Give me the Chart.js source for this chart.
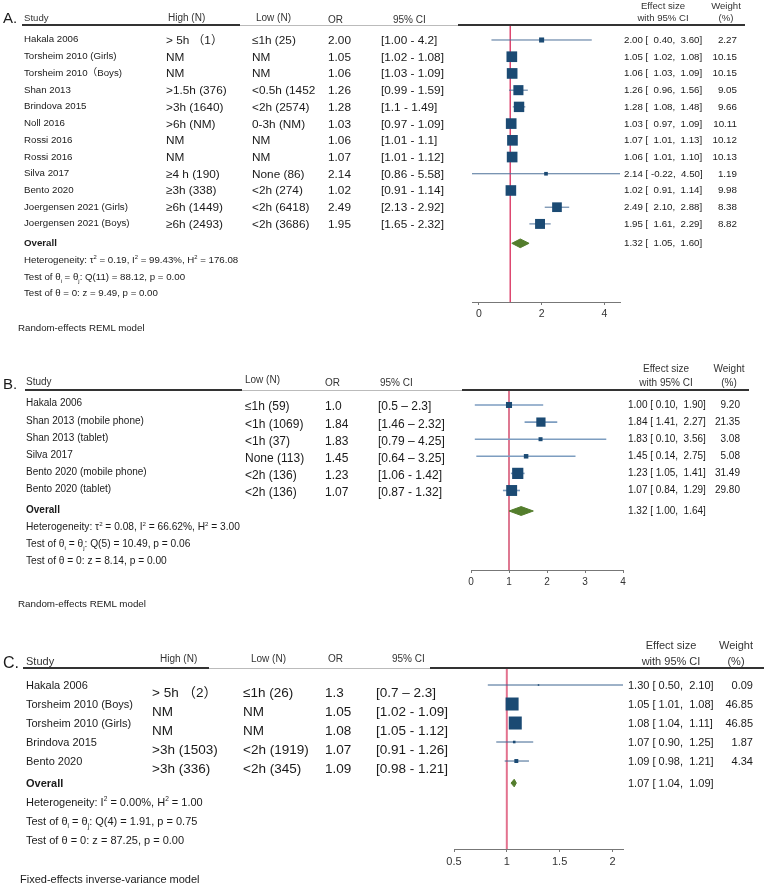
<!DOCTYPE html>
<html>
<head>
<meta charset="utf-8">
<script src="https://cdn.jsdelivr.net/npm/chart.js@4.4.1/dist/chart.umd.min.js"></script>
<style>
  body { margin: 0; background: #fff; }
  #page { position: relative; width: 764px; height: 885px; overflow: hidden; background: #fff;
          font-family: "Liberation Sans", Arial, "Noto Sans CJK SC", sans-serif; color: #1a1a1a; }
  canvas { position: absolute; left: 0; }
  .t { position: absolute; white-space: pre; line-height: 1; }
  .hl { position: absolute; }
  sup, sub { font-size: 60%; line-height: 0; }
</style>
</head>
<body>
<div id="page">
  <canvas id="cA" width="764" height="340" style="top:0px"></canvas>
  <canvas id="cB" width="764" height="280" style="top:340px"></canvas>
  <canvas id="cC" width="764" height="265" style="top:620px"></canvas>
</div>
<script>
// ---- panel A : high vs low screen time ----
const studiesA = ['Hakala 2006', 'Torsheim 2010 (Girls)', 'Torsheim 2010（Boys)', 'Shan 2013', 'Brindova 2015', 'Noll 2016',
                  'Rossi 2016', 'Rossi 2016', 'Silva 2017', 'Bento 2020', 'Joergensen 2021 (Girls)', 'Joergensen 2021 (Boys)'];
const highA = ['> 5h （1）', 'NM', 'NM', '>1.5h (376)', '>3h (1640)', '>6h (NM)', 'NM', 'NM', '≥4 h (190)', '≥3h (338)', '≥6h (1449)', '≥6h (2493)'];
const lowA = ['≤1h (25)', 'NM', 'NM', '<0.5h (1452', '<2h (2574)', '0-3h (NM)', 'NM', 'NM', 'None (86)', '<2h (274)', '<2h (6418)', '<2h (3686)'];
const orA = ['2.00', '1.05', '1.06', '1.26', '1.28', '1.03', '1.06', '1.07', '2.14', '1.02', '2.49', '1.95'];
const ciA = ['[1.00 - 4.2]', '[1.02 - 1.08]', '[1.03 - 1.09]', '[0.99 - 1.59]', '[1.1 - 1.49]', '[0.97 - 1.09]',
             '[1.01 - 1.1]', '[1.01 - 1.12]', '[0.86 - 5.58]', '[0.91 - 1.14]', '[2.13 - 2.92]', '[1.65 - 2.32]'];
const esA = [2.00, 1.05, 1.06, 1.26, 1.28, 1.03, 1.07, 1.06, 2.14, 1.02, 2.49, 1.95];
const loA = [0.40, 1.02, 1.03, 0.96, 1.08, 0.97, 1.01, 1.01, -0.22, 0.91, 2.10, 1.61];
const hiA = [3.60, 1.08, 1.09, 1.56, 1.48, 1.09, 1.13, 1.10, 4.50, 1.14, 2.88, 2.29];
const weightA = [2.27, 10.15, 10.15, 9.05, 9.66, 10.11, 10.12, 10.13, 1.19, 9.98, 8.38, 8.82];
const overallA = [1.32, 1.05, 1.60];
const ticksA = [0, 2, 4];

// ---- panel B : devices ----
const studiesB = ['Hakala 2006', 'Shan 2013 (mobile phone)', 'Shan 2013 (tablet)', 'Silva 2017', 'Bento 2020 (mobile phone)', 'Bento 2020 (tablet)'];
const lowB = ['≤1h (59)', '<1h (1069)', '<1h (37)', 'None (113)', '<2h (136)', '<2h (136)'];
const orB = ['1.0', '1.84', '1.83', '1.45', '1.23', '1.07'];
const ciB = ['[0.5 – 2.3]', '[1.46 – 2.32]', '[0.79 – 4.25]', '[0.64 – 3.25]', '[1.06 - 1.42]', '[0.87 - 1.32]'];
const esB = [1.00, 1.84, 1.83, 1.45, 1.23, 1.07];
const loB = [0.10, 1.41, 0.10, 0.14, 1.05, 0.84];
const hiB = [1.90, 2.27, 3.56, 2.75, 1.41, 1.29];
const weightB = [9.20, 21.35, 3.08, 5.08, 31.49, 29.80];
const overallB = [1.32, 1.00, 1.64];
const ticksB = [0, 1, 2, 3, 4];

// ---- panel C : fixed effects ----
const studiesC = ['Hakala 2006', 'Torsheim 2010 (Boys)', 'Torsheim 2010 (Girls)', 'Brindova 2015', 'Bento 2020'];
const highC = ['> 5h （2）', 'NM', 'NM', '>3h (1503)', '>3h (336)'];
const lowC = ['≤1h (26)', 'NM', 'NM', '<2h (1919)', '<2h (345)'];
const orC = ['1.3', '1.05', '1.08', '1.07', '1.09'];
const ciC = ['[0.7 – 2.3]', '[1.02 - 1.09]', '[1.05 - 1.12]', '[0.91 - 1.26]', '[0.98 - 1.21]'];
const esC = [1.30, 1.05, 1.08, 1.07, 1.09];
const loC = [0.50, 1.01, 1.04, 0.90, 0.98];
const hiC = [2.10, 1.08, 1.11, 1.25, 1.21];
const drawnLoC = [0.82, 1.01, 1.04, 0.90, 0.98]; // left end of the CI whiskers as drawn
const weightC = [0.09, 46.85, 46.85, 1.87, 4.34];
const overallC = [1.07, 1.04, 1.09];
const ticksC = [0.5, 1, 1.5, 2];

const page = document.getElementById('page');

function txt(s, x, y, size, opt = {}) {
  const d = document.createElement('div');
  d.className = 't';
  if (opt.html) d.innerHTML = s; else d.textContent = s;
  d.style.left = x + 'px';
  d.style.top = y + 'px';
  d.style.fontSize = size + 'px';
  if (opt.bold) d.style.fontWeight = 'bold';
  if (opt.color) d.style.color = opt.color;
  const tx = opt.align === 'right' ? '-100%' : opt.align === 'center' ? '-50%' : '0';
  d.style.transform = `translate(${tx},-50%)`;
  page.appendChild(d);
}

function hline(x1, x2, y, color, w) {
  const d = document.createElement('div');
  d.className = 'hl';
  d.style.left = x1 + 'px';
  d.style.top = (y - w / 2) + 'px';
  d.style.width = (x2 - x1) + 'px';
  d.style.height = w + 'px';
  d.style.background = color;
  page.appendChild(d);
}

const pad = (v, n) => v.toFixed(2).padStart(n);

function forest(p) {
  const n = p.es.length;
  const datasets = [];
  // reference line at OR = 1
  datasets.push({ data: [{ x: 1, y: p.yMin }, { x: 1, y: p.yMax }], showLine: true,
    borderColor: p.refColor, borderWidth: p.refWidth, pointRadius: 0, order: 4 });
  for (let i = 0; i < n; i++) {
    datasets.push({ data: [{ x: p.lo[i], y: i }, { x: p.hi[i], y: i }], showLine: true,
      borderColor: p.ciColor, borderWidth: p.ciWidth, pointRadius: 0, order: 3 });
  }
  datasets.push({
    data: p.es.map((v, i) => ({ x: v, y: i })),
    pointStyle: 'rect',
    pointRadius: p.w.map(w => Math.max(p.minSide, p.k * Math.sqrt(w)) / Math.SQRT2),
    pointBackgroundColor: '#1b4a73', pointBorderWidth: 0, order: 1
  });
  const [est, lo, hi] = p.overall;
  const r = n + p.ovGap, h = p.diaH;
  datasets.push({
    data: [{ x: lo, y: r }, { x: est, y: r - h }, { x: hi, y: r }, { x: est, y: r + h }, { x: lo, y: r }],
    showLine: true, fill: 'shape', backgroundColor: '#537d2c', borderColor: '#537d2c',
    borderWidth: 1, pointRadius: 0, order: 2
  });

  return new Chart(document.getElementById(p.canvas), {
    type: 'scatter',
    data: { datasets },
    options: {
      responsive: false,
      animation: false,
      devicePixelRatio: 1,
      events: [],
      layout: { padding: p.padding },
      plugins: { legend: { display: false }, tooltip: { enabled: false } },
      scales: {
        x: {
          type: 'linear', min: p.xMin, max: p.xMax,
          afterBuildTicks: s => { s.ticks = p.ticks.map(v => ({ value: v })); },
          afterFit: s => { s.height = 20; },
          ticks: { callback: v => String(v), color: '#333', padding: 3,
                   font: { family: 'Liberation Sans', size: p.tickSize } },
          grid: { display: true, drawOnChartArea: false, drawTicks: true, tickLength: 3, color: '#777' },
          border: { display: true, color: '#777', width: 1 }
        },
        y: { type: 'linear', reverse: true, min: p.yMin, max: p.yMax, display: false }
      }
    }
  });
}

// ---------- Panel A ----------
const chartA = forest({
  canvas: 'cA', es: esA, lo: loA, hi: hiA, w: weightA, overall: overallA, ticks: ticksA,
  xMin: -0.22, xMax: 4.5, yMin: -0.897, yMax: 15.67,
  padding: { left: 472, right: 144, top: 25, bottom: 18 },
  refColor: '#dd4770', refWidth: 1.5, ciColor: '#4d7098', ciWidth: 1,
  k: 3.35, minSide: 3, ovGap: 0.16, diaH: 0.26, tickSize: 10.5
});
{
  const top = 0, ys = chartA.scales.y;
  const rowY = v => top + ys.getPixelForValue(v);
  txt('A.', 3, 17, 15);
  txt('Study', 24, 18, 9.6, { color: '#333' });
  txt('High (N)', 168, 18, 10, { color: '#333' });
  txt('Low (N)', 256, 18, 10, { color: '#333' });
  txt('OR', 328, 20, 10, { color: '#333' });
  txt('95% CI', 393, 20, 10, { color: '#333' });
  txt('Effect size', 663, 5.5, 9.6, { align: 'center', color: '#333' });
  txt('with 95% CI', 663, 18, 9.6, { align: 'center', color: '#333' });
  txt('Weight', 726, 5.5, 9.6, { align: 'center', color: '#333' });
  txt('(%)', 726, 18, 9.6, { align: 'center', color: '#333' });
  hline(22, 240, 25, '#333', 1.3);
  hline(240, 458, 25, '#bbb', 1);
  hline(458, 745, 25, '#333', 1.3);
  studiesA.forEach((s, i) => {
    const y = rowY(i);
    txt(s, 24, y - 0.5, 9.7);
    txt(highA[i], 166, y + 1, 11.8);
    txt(lowA[i], 252, y + 1, 11.8);
    txt(orA[i], 328, y + 1, 11.8);
    txt(ciA[i], 381, y + 1, 11.8);
    txt(`${esA[i].toFixed(2)} [${pad(loA[i], 6)},${pad(hiA[i], 6)}]`, 624, y, 9.7);
    txt(weightA[i].toFixed(2), 737, y, 9.8, { align: 'right' });
  });
  const yo = rowY(studiesA.length + 0.16);
  txt('Overall', 24, yo, 9.7, { bold: true });
  txt(`${overallA[0].toFixed(2)} [${pad(overallA[1], 6)},${pad(overallA[2], 6)}]`, 624, yo, 9.7);
  txt('Heterogeneity: τ<sup>2</sup> = 0.19, I<sup>2</sup> = 99.43%, H<sup>2</sup> = 176.08', 24, 260, 9.7, { html: true });
  txt('Test of θ<sub>i</sub> = θ<sub>j</sub>: Q(11) = 88.12, p = 0.00', 24, 277, 9.7, { html: true });
  txt('Test of θ = 0: z = 9.49, p = 0.00', 24, 293, 9.7);
  txt('Random-effects REML model', 18, 328, 9.7);
}

// ---------- Panel B ----------
const chartB = forest({
  canvas: 'cB', es: esB, lo: loB, hi: hiB, w: weightB, overall: overallB, ticks: ticksB,
  xMin: 0, xMax: 4, yMin: -0.877, yMax: 9.65,
  padding: { left: 471, right: 141, top: 50, bottom: 30 },
  refColor: '#c8204a', refWidth: 1.2, ciColor: '#7d9dc0', ciWidth: 1.6,
  k: 2.0, minSide: 4, ovGap: 0.2, diaH: 0.26, tickSize: 10
});
{
  const top = 340, ys = chartB.scales.y;
  const rowY = v => top + ys.getPixelForValue(v);
  txt('B.', 3, 383, 15);
  txt('Study', 26, 382, 10, { color: '#333' });
  txt('Low (N)', 245, 380, 10, { color: '#333' });
  txt('OR', 325, 383, 10, { color: '#333' });
  txt('95% CI', 380, 383, 10, { color: '#333' });
  txt('Effect size', 666, 369, 10, { align: 'center', color: '#333' });
  txt('with 95% CI', 666, 383, 10, { align: 'center', color: '#333' });
  txt('Weight', 729, 369, 10, { align: 'center', color: '#333' });
  txt('(%)', 729, 383, 10, { align: 'center', color: '#333' });
  hline(25, 242, 390, '#333', 1.3);
  hline(242, 462, 390, '#bbb', 1);
  hline(462, 749, 390, '#333', 1.3);
  studiesB.forEach((s, i) => {
    const y = rowY(i);
    txt(s, 26, y - 1.5, 10);
    txt(lowB[i], 245, y + 1.5, 12);
    txt(orB[i], 325, y + 1.5, 12);
    txt(ciB[i], 378, y + 1.5, 12);
    txt(`${esB[i].toFixed(2)} [${pad(loB[i], 5)},${pad(hiB[i], 6)}]`, 628, y, 10);
    txt(weightB[i].toFixed(2), 740, y, 10, { align: 'right' });
  });
  const yo = rowY(studiesB.length + 0.2);
  txt('Overall', 26, yo - 1, 10, { bold: true });
  txt(`${overallB[0].toFixed(2)} [${pad(overallB[1], 5)},${pad(overallB[2], 6)}]`, 628, yo, 10);
  txt('Heterogeneity: τ<sup>2</sup> = 0.08, I<sup>2</sup> = 66.62%, H<sup>2</sup> = 3.00', 26, 527, 10.2, { html: true });
  txt('Test of θ<sub>i</sub> = θ<sub>j</sub>: Q(5) = 10.49, p = 0.06', 26, 544, 10.2, { html: true });
  txt('Test of θ = 0: z = 8.14, p = 0.00', 26, 561, 10.2);
  txt('Random-effects REML model', 18, 604, 9.8);
}

// ---------- Panel C ----------
const chartC = forest({
  canvas: 'cC', es: esC, lo: drawnLoC, hi: hiC, w: weightC, overall: overallC, ticks: ticksC,
  xMin: 0.5, xMax: 2.1, yMin: -0.895, yMax: 8.63,
  padding: { left: 454, right: 141, top: 48, bottom: 16 },
  refColor: '#e3728f', refWidth: 2, ciColor: '#3d6590', ciWidth: 1,
  k: 1.9, minSide: 1.5, ovGap: 0.16, diaH: 0.2, tickSize: 11
});
{
  const top = 620, ys = chartC.scales.y;
  const rowY = v => top + ys.getPixelForValue(v);
  txt('C.', 3, 663, 16);
  txt('Study', 26, 661, 11, { color: '#333' });
  txt('High (N)', 160, 659, 10, { color: '#333' });
  txt('Low (N)', 251, 659, 10, { color: '#333' });
  txt('OR', 328, 659, 10, { color: '#333' });
  txt('95% CI', 392, 659, 10, { color: '#333' });
  txt('Effect size', 671, 645, 11, { align: 'center', color: '#333' });
  txt('with 95% CI', 671, 661, 11, { align: 'center', color: '#333' });
  txt('Weight', 736, 645, 11, { align: 'center', color: '#333' });
  txt('(%)', 736, 661, 11, { align: 'center', color: '#333' });
  hline(23, 209, 668, '#333', 1.3);
  hline(209, 430, 668, '#bbb', 1);
  hline(430, 764, 668, '#333', 1.3);
  studiesC.forEach((s, i) => {
    const y = rowY(i);
    txt(s, 26, y, 11);
    txt(highC[i], 152, y + 8, 13.5);
    txt(lowC[i], 243, y + 8, 13.5);
    txt(orC[i], 325, y + 8, 13.5);
    txt(ciC[i], 376, y + 8, 13.5);
    txt(`${esC[i].toFixed(2)} [${pad(loC[i], 5)},${pad(hiC[i], 6)}]`, 628, y, 11);
    txt(weightC[i].toFixed(2), 753, y, 11, { align: 'right' });
  });
  const yo = rowY(studiesC.length + 0.16);
  txt('Overall', 26, yo, 11, { bold: true });
  txt(`${overallC[0].toFixed(2)} [${pad(overallC[1], 5)},${pad(overallC[2], 6)}]`, 628, yo, 11);
  txt('Heterogeneity: I<sup>2</sup> = 0.00%, H<sup>2</sup> = 1.00', 26, 802, 11, { html: true });
  txt('Test of θ<sub>i</sub> = θ<sub>j</sub>: Q(4) = 1.91, p = 0.75', 26, 821, 11, { html: true });
  txt('Test of θ = 0: z = 87.25, p = 0.00', 26, 840, 11);
  txt('Fixed-effects inverse-variance model', 20, 879, 11);
}
</script>
</body>
</html>
